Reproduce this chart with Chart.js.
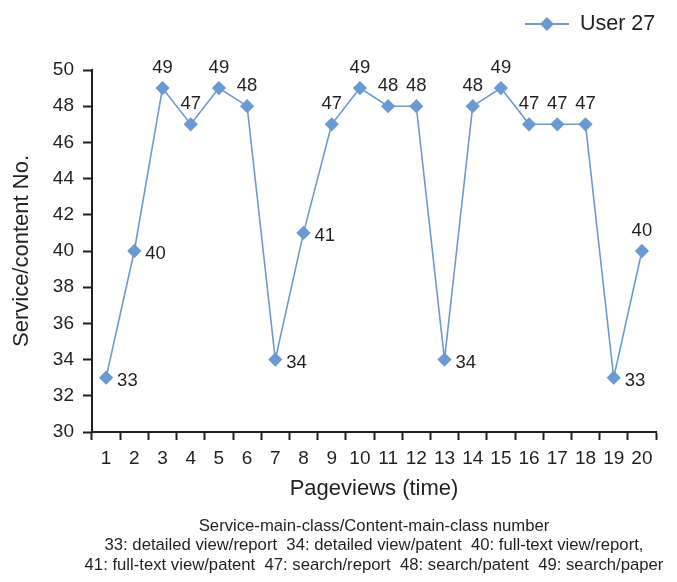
<!DOCTYPE html>
<html>
<head>
<meta charset="utf-8">
<script src="https://cdn.jsdelivr.net/npm/chart.js@4.4.1/dist/chart.umd.min.js"></script>
<style>
    html, body { margin: 0; padding: 0; background: #fff; }
    #wrap { width: 677px; height: 582px; position: relative; }
</style>
</head>
<body>
<div id="wrap"><canvas id="userChart"></canvas></div>
<script>
// chart data
const pageviews = ['1', '2', '3', '4', '5', '6', '7', '8', '9', '10',
                   '11', '12', '13', '14', '15', '16', '17', '18', '19', '20'];
const user27 = [33, 40, 49, 47, 49, 48, 34, 41, 47, 49, 48, 48, 34, 48, 49, 47, 47, 47, 33, 40];
const seriesName = 'User 27';
const footnoteLines = [
    'Service-main-class/Content-main-class number',
    '33: detailed view/report  34: detailed view/patent  40: full-text view/report,',
    '41: full-text view/patent  47: search/report  48: search/patent  49: search/paper'
];

const lineColor = '#6a9ad2';
const textColor = '#231f20';
const fontFamily = '"Liberation Sans", Arial, sans-serif';

// labels next to the markers, legend and footnote
const extrasPlugin = {
    id: 'extras',
    afterDatasetsDraw(chart) {
        const ctx = chart.ctx;
        const meta = chart.getDatasetMeta(0);
        ctx.save();
        ctx.fillStyle = textColor;
        ctx.font = '18.5px ' + fontFamily;
        meta.data.forEach(function(pt, i) {
            const v = user27[i];
            const last = i === user27.length - 1;
            ctx.textBaseline = 'middle';
            if (v < 45 && !last) {
                ctx.textAlign = 'left';
                ctx.fillText(String(v), pt.x + 11, pt.y + 3);
            } else {
                ctx.textAlign = 'center';
                ctx.fillText(String(v), pt.x, pt.y - 20);
            }
        });

        // legend
        ctx.strokeStyle = lineColor;
        ctx.lineWidth = 2;
        ctx.beginPath();
        ctx.moveTo(525, 24);
        ctx.lineTo(569, 24);
        ctx.stroke();
        ctx.fillStyle = lineColor;
        ctx.beginPath();
        ctx.moveTo(547, 17);
        ctx.lineTo(554, 24);
        ctx.lineTo(547, 31);
        ctx.lineTo(540, 24);
        ctx.closePath();
        ctx.fill();
        ctx.fillStyle = textColor;
        ctx.font = '21.5px ' + fontFamily;
        ctx.textAlign = 'left';
        ctx.textBaseline = 'middle';
        ctx.fillText(seriesName, 580, 24);

        // footnote
        const cx = (chart.chartArea.left + chart.chartArea.right) / 2;
        ctx.font = '16.7px ' + fontFamily;
        ctx.textAlign = 'center';
        footnoteLines.forEach(function(line, i) {
            ctx.fillText(line, cx, 526 + i * 19.5);
        });
        ctx.restore();
    }
};

const ctx = document.getElementById('userChart').getContext('2d');
new Chart(ctx, {
    type: 'line',
    data: {
        labels: pageviews,
        datasets: [{
            label: seriesName,
            data: user27,
            borderColor: lineColor,
            backgroundColor: lineColor,
            borderWidth: 1.6,
            pointStyle: 'rectRot',
            pointRadius: 6,
            pointHoverRadius: 6,
            tension: 0,
            fill: false
        }]
    },
    options: {
        responsive: true,
        maintainAspectRatio: false,
        animation: false,
        events: [],
        layout: {
            padding: { left: 0, right: 21, top: 70, bottom: 80 }
        },
        plugins: {
            legend: { display: false },
            tooltip: { enabled: false }
        },
        scales: {
            x: {
                offset: true,
                grid: {
                    offset: true,
                    drawOnChartArea: false,
                    drawTicks: true,
                    tickLength: 8,
                    tickWidth: 2,
                    tickColor: textColor
                },
                border: { color: textColor, width: 2 },
                ticks: {
                    color: textColor,
                    font: { family: fontFamily, size: 19 },
                    padding: 7,
                    maxRotation: 0,
                    autoSkip: false
                },
                title: {
                    display: true,
                    text: 'Pageviews (time)',
                    color: textColor,
                    font: { family: fontFamily, size: 22 },
                    padding: { top: 0, bottom: 0 }
                },
                afterFit(scale) { scale.height = 70; }
            },
            y: {
                min: 30,
                max: 50,
                ticks: {
                    stepSize: 2,
                    color: textColor,
                    font: { family: fontFamily, size: 19 },
                    padding: 9
                },
                grid: {
                    drawOnChartArea: false,
                    drawTicks: true,
                    tickLength: 9,
                    tickWidth: 2,
                    tickColor: textColor
                },
                border: { color: textColor, width: 2 },
                title: {
                    display: true,
                    text: 'Service/content No.',
                    color: textColor,
                    font: { family: fontFamily, size: 22 },
                    padding: { top: 9, bottom: 0 }
                },
                afterFit(scale) { scale.width = 92; }
            }
        }
    },
    plugins: [extrasPlugin]
});
</script>
</body>
</html>
